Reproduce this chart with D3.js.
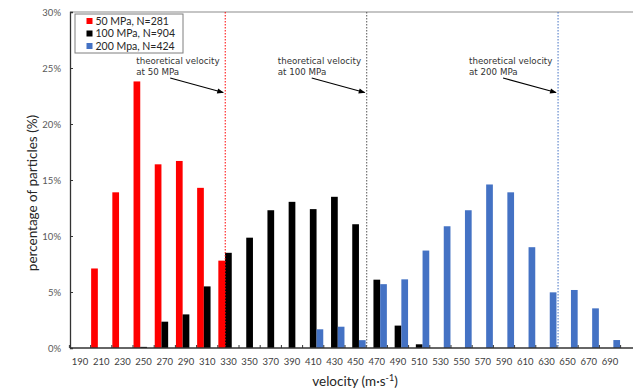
<!DOCTYPE html>
<html>
<head>
<meta charset="utf-8">
<script src="https://cdn.jsdelivr.net/npm/d3@7"></script>
<style>
  html, body { margin: 0; padding: 0; background: #fff; }
  svg { display: block; }
</style>
</head>
<body>
<svg id="chart" width="633" height="390"></svg>
<script>
// Velocity classes (m/s), 20 m/s bins
const velocities = [190, 210, 230, 250, 270, 290, 310, 330, 350, 370, 390, 410, 430,
                    450, 470, 490, 510, 530, 550, 570, 590, 610, 630, 650, 670, 690];

const seriesNames = ["50 MPa, N=281", "100 MPa, N=904", "200 Mpa, N=424"];
const seriesColors = ["#ff0000", "#000000", "#4472c4"];

// Percentage of particles per velocity class
const p50 = [0, 7.1, 13.9, 23.8, 16.4, 16.7, 14.3, 7.8, 0, 0, 0, 0, 0,
             0, 0, 0, 0, 0, 0, 0, 0, 0, 0, 0, 0, 0];
const p100 = [0, 0, 0, 0.1, 2.35, 3.0, 5.5, 8.5, 9.85, 12.3, 13.05, 12.4, 13.5,
              11.05, 6.1, 2.0, 0.33, 0, 0, 0, 0, 0, 0, 0, 0, 0];
const p200 = [0, 0, 0, 0, 0, 0, 0, 0, 0, 0, 0, 1.67, 1.9,
              0.7, 5.7, 6.13, 8.7, 10.87, 12.3, 14.6, 13.9, 9.0, 4.97, 5.18, 3.54, 0.71];

const yTicks = [0, 5, 10, 15, 20, 25, 30];

// Theoretical impact velocity for each pressure
const theoryLabels = ["at 50 MPa", "at 100 MPa", "at 200 MPa"];
const theoryVelocity = [327, 460.5, 641];
const theoryColors = ["#ff0000", "#555555", "#4472c4"];

const seriesValues = [p50, p100, p200];

const svg = d3.select("#chart");
const plot = { left: 69.4, right: 620.6, top: 12, bottom: 348, edge: 633 };
const labelFont = "Lato, 'Liberation Sans', sans-serif";

const x = d3.scaleBand().domain(velocities).range([plot.left, plot.right]).padding(0);
const xSub = d3.scaleBand().domain(d3.range(seriesNames.length))
  .range([0, x.bandwidth()]).paddingInner(0).paddingOuter(0.08);
const xLin = d3.scaleLinear()
  .domain([velocities[0], velocities[velocities.length - 1]])
  .range([x(velocities[0]) + x.bandwidth() / 2,
          x(velocities[velocities.length - 1]) + x.bandwidth() / 2]);
const y = d3.scaleLinear().domain([0, 30]).range([plot.bottom, plot.top]);

// Bars
seriesValues.forEach((vals, si) => {
  svg.append("g")
    .selectAll("rect")
    .data(velocities.map((v, i) => ({ v, p: vals[i] })).filter(d => d.p > 0))
    .join("rect")
    .attr("x", d => x(d.v) + xSub(si))
    .attr("width", xSub.bandwidth())
    .attr("y", d => y(d.p))
    .attr("height", d => y(0) - y(d.p))
    .attr("fill", seriesColors[si]);
});

// Top frame line
svg.append("line")
  .attr("x1", 70).attr("x2", plot.edge)
  .attr("y1", y(30)).attr("y2", y(30))
  .attr("stroke", "#8c8c8c").attr("stroke-width", 1.2);

// Y axis
const yAxis = d3.axisLeft(y).tickValues(yTicks).tickFormat(d => d + "%").tickSize(-3).tickPadding(9);
const gy = svg.append("g").attr("transform", "translate(70,0)").call(yAxis);
gy.select(".domain").attr("stroke", "#333").attr("stroke-width", 1.3);
gy.selectAll(".tick line").attr("stroke", "#333");
gy.selectAll(".tick text").attr("fill", "#595959")
  .style("font-family", labelFont).style("font-size", "9.5px");

// X axis: labels centred in the bins, ticks on bin boundaries
const xAxis = d3.axisBottom(x).tickSize(0).tickPadding(10);
const gx = svg.append("g").attr("transform", `translate(0,${plot.bottom})`).call(xAxis);
gx.select(".domain").remove();
gx.selectAll(".tick text").attr("fill", "#404040")
  .style("font-family", labelFont).style("font-size", "9.5px");
svg.append("line")
  .attr("x1", 70).attr("x2", plot.edge)
  .attr("y1", plot.bottom).attr("y2", plot.bottom)
  .attr("stroke", "#333").attr("stroke-width", 1.3);
svg.append("g")
  .selectAll("line")
  .data(velocities.concat([null]))
  .join("line")
  .attr("x1", (d, i) => plot.left + i * x.step())
  .attr("x2", (d, i) => plot.left + i * x.step())
  .attr("y1", plot.bottom - 3).attr("y2", plot.bottom)
  .attr("stroke", "#333").attr("stroke-width", 1);

// Axis titles
svg.append("text")
  .attr("x", 355).attr("y", 386)
  .attr("text-anchor", "middle")
  .attr("fill", "#262626")
  .style("font-family", labelFont).style("font-size", "13.5px")
  .html('velocity (m·s<tspan dy="-5" font-size="9px">-1</tspan><tspan dy="5">)</tspan>');

svg.append("text")
  .attr("transform", "translate(37,193) rotate(-90)")
  .attr("text-anchor", "middle")
  .attr("fill", "#262626")
  .style("font-family", labelFont).style("font-size", "13.5px")
  .text("percentage of particles (%)");

// Theoretical velocity markers
svg.append("defs").append("marker")
  .attr("id", "arrowhead")
  .attr("viewBox", "0 0 10 10")
  .attr("refX", 9).attr("refY", 5)
  .attr("markerWidth", 7).attr("markerHeight", 6)
  .attr("orient", "auto")
  .append("path").attr("d", "M0,1 L10,5 L0,9 Z").attr("fill", "#000");

theoryVelocity.forEach((v, i) => {
  const vx = xLin(v);
  svg.append("line")
    .attr("x1", vx).attr("x2", vx)
    .attr("y1", plot.top).attr("y2", plot.bottom)
    .attr("stroke", theoryColors[i]).attr("stroke-width", 1)
    .attr("stroke-dasharray", "1.5,1.5");
  const t = svg.append("text")
    .attr("x", vx - 89).attr("y", 63.5)
    .attr("fill", "#333")
    .style("font-family", "'DejaVu Sans', Verdana, sans-serif").style("font-size", "8.7px");
  t.append("tspan").attr("x", vx - 89).text("theoretical velocity");
  t.append("tspan").attr("x", vx - 89).attr("dy", 11).text(theoryLabels[i]);
  svg.append("line")
    .attr("x1", vx - 55).attr("y1", 78)
    .attr("x2", vx - 2).attr("y2", 92.5)
    .attr("stroke", "#000").attr("stroke-width", 1.1)
    .attr("marker-end", "url(#arrowhead)");
});

// Legend
const legend = svg.append("g");
legend.append("rect")
  .attr("x", 75).attr("y", 14).attr("width", 108).attr("height", 39)
  .attr("fill", "#fff").attr("stroke", "#7f7f7f").attr("stroke-width", 1);
seriesNames.forEach((name, i) => {
  const cy = 21 + i * 12.5;
  legend.append("rect")
    .attr("x", 86.5).attr("y", cy - 3).attr("width", 6).attr("height", 6)
    .attr("fill", seriesColors[i]);
  legend.append("text")
    .attr("x", 95.5).attr("y", cy + 3.8)
    .attr("fill", "#262626")
    .style("font-family", labelFont).style("font-size", "10.5px")
    .text(name);
});
</script>
</body>
</html>
